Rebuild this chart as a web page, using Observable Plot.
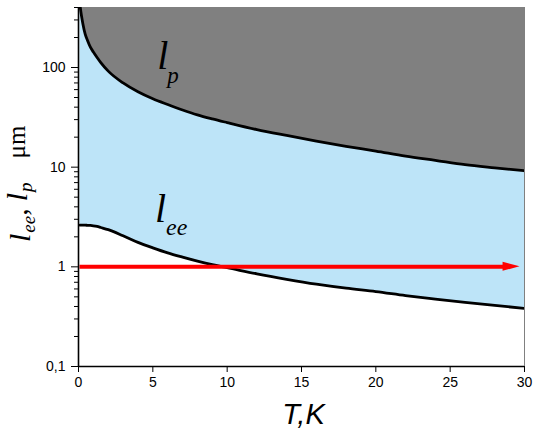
<!DOCTYPE html>
<html>
<head>
<meta charset="utf-8">
<script src="https://cdn.jsdelivr.net/npm/d3@7"></script>
<script src="https://cdn.jsdelivr.net/npm/@observablehq/plot@0.6"></script>
<style>
  html, body { margin: 0; padding: 0; background: #fff; overflow: hidden; }
</style>
</head>
<body>
<div id="chart"></div>
<script>
// Temperature T (K)
const T = [0.1, 0.2, 0.3, 0.45, 0.6, 0.8, 1, 1.25, 1.5, 2, 3, 4, 5, 6, 7, 8, 9, 10, 12, 14, 16, 18, 20, 22, 24, 26, 28, 30];
// l_p (µm)
const lp = [420, 330, 272, 216, 188, 160, 143, 126, 112, 92, 70, 57, 48.5, 42.5, 37.5, 33.5, 30.5, 28, 23.8, 20.8, 18.3, 16.2, 14.5, 12.9, 11.7, 10.6, 9.85, 9.2];
// l_ee (µm)
const lee = [2.62, 2.62, 2.62, 2.62, 2.61, 2.6, 2.58, 2.54, 2.48, 2.36, 2.05, 1.76, 1.55, 1.38, 1.25, 1.14, 1.05, 0.98, 0.85, 0.75, 0.67, 0.61, 0.565, 0.515, 0.475, 0.44, 0.41, 0.383];

const yTop = 400;
const arrowLevel = 1;
const arrowStart = 0.1;
const arrowEnd = 29.7;

const xTicks = [0, 5, 10, 15, 20, 25, 30];
const yTicks = [0.1, 1, 10, 100];
const yTickLabels = ["0,1", "1", "10", "100"];
const yMinorTicks = [0.2,0.3,0.4,0.5,0.6,0.7,0.8,0.9, 2,3,4,5,6,7,8,9, 20,30,40,50,60,70,80,90, 200,300,400];

const rows = T.map((t, i) => ({T: t, lp: lp[i], lee: lee[i]}));

const serif = "'Liberation Serif', 'Times New Roman', serif";

function yTitle(index, scales, values, dims) {
  const t = d3.create("svg:text")
    .attr("transform", `translate(30,${242}) rotate(-90)`)
    .attr("text-anchor", "start")
    .attr("font-family", serif)
    .attr("font-size", 30)
    .attr("fill", "black");
  t.append("tspan").attr("font-style", "italic").text("l");
  t.append("tspan").attr("font-style", "italic").attr("font-size", 19).attr("dy", "0.28em").attr("dx", 1).text("ee");
  t.append("tspan").attr("dy", "-0.28em").text(",");
  t.append("tspan").attr("font-style", "italic").attr("dx", 7).text("l");
  t.append("tspan").attr("font-style", "italic").attr("font-size", 19).attr("dy", "0.28em").attr("dx", 1).text("p");
  t.append("tspan").attr("dy", "-0.28em").attr("dx", 24).attr("font-size", 25).text("\u03BCm");
  return t.node();
}

function arrowHead(index, scales) {
  const x = scales.x(arrowEnd), y = scales.y(arrowLevel);
  return d3.create("svg:path")
    .attr("d", `M${x},${y}L${x - 17},${y - 4.5}L${x - 17},${y + 4.5}Z`)
    .attr("fill", "#ff0000")
    .node();
}

const chart = Plot.plot({
  width: 535,
  height: 431,
  marginLeft: 78,
  marginRight: 11,
  marginTop: 7,
  marginBottom: 65,
  style: {fontFamily: "'Liberation Sans', Arial, sans-serif", fontSize: "14px", color: "black", background: "white"},
  x: {domain: [0, 30]},
  y: {type: "log", domain: [0.1, yTop]},
  marks: [
    Plot.areaY(rows, {x: "T", y1: "lee", y2: "lp", fill: "#bde4f8", curve: "monotone-x", clip: true}),
    Plot.areaY(rows, {x: "T", y1: "lp", y2: () => yTop, fill: "#808080", curve: "monotone-x", clip: true}),
    Plot.line(rows, {x: "T", y: "lp", stroke: "black", strokeWidth: 2.8, curve: "monotone-x", clip: true}),
    Plot.line(rows, {x: "T", y: "lee", stroke: "black", strokeWidth: 2.8, curve: "monotone-x", clip: true}),
    Plot.ruleY([arrowLevel], {x1: arrowStart, x2: arrowEnd - 1, stroke: "#ff0000", strokeWidth: 4}),
    arrowHead,
    Plot.ruleX([30], {stroke: "#808080", strokeWidth: 1}),
    Plot.ruleX([0], {stroke: "black", strokeWidth: 1.6}),
    Plot.ruleY([0.1], {stroke: "black", strokeWidth: 1.6}),
    Plot.axisX(xTicks, {tickSize: 6, tickPadding: 5, label: null, fontSize: 14}),
    Plot.axisY(yTicks, {tickSize: 7, tickPadding: 6, label: null, fontSize: 14,
      tickFormat: d => yTickLabels[yTicks.indexOf(d)]}),
    Plot.axisY(yMinorTicks, {tickSize: 4, label: null, tickFormat: () => ""}),
    // in-plot labels
    Plot.text([{T: 5.3, v: 97}], {x: "T", y: "v", text: () => "l", fontFamily: serif, fontStyle: "italic", fontSize: 40, textAnchor: "start", lineAnchor: "bottom", fill: "black"}),
    Plot.text([{T: 5.3, v: 97}], {x: "T", y: "v", text: () => "p", fontFamily: serif, fontStyle: "italic", fontSize: 23, textAnchor: "start", lineAnchor: "bottom", dx: 10, dy: 14, fill: "black"}),
    Plot.text([{T: 5.15, v: 2.81}], {x: "T", y: "v", text: () => "l", fontFamily: serif, fontStyle: "italic", fontSize: 40, textAnchor: "start", lineAnchor: "bottom", fill: "black"}),
    Plot.text([{T: 5.15, v: 2.81}], {x: "T", y: "v", text: () => "ee", fontFamily: serif, fontStyle: "italic", fontSize: 24, textAnchor: "start", lineAnchor: "bottom", dx: 11, dy: 13, fill: "black"}),
    // x title
    Plot.text(["T,K"], {frameAnchor: "bottom", text: d => d, fontSize: 29, fontStyle: "italic", lineAnchor: "bottom", dy: 57, dx: 2, fill: "black"}),
    yTitle
  ]
});

document.getElementById("chart").appendChild(chart);
</script>
</body>
</html>
